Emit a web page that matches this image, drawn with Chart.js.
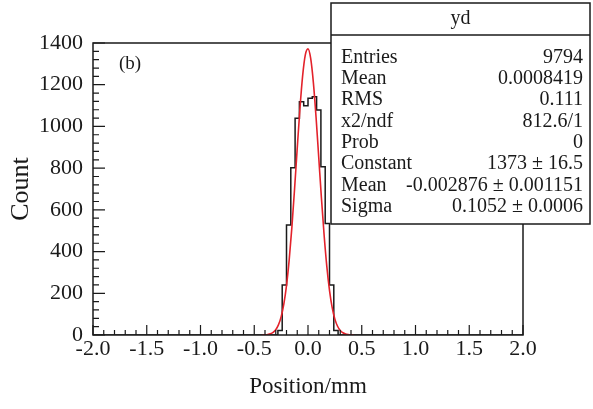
<!DOCTYPE html>
<html><head><meta charset="utf-8">
<script src="https://cdn.jsdelivr.net/npm/chart.js@4/dist/chart.umd.min.js"></script>
<style>html,body{margin:0;padding:0;background:#fff;} canvas{display:block;}</style>
</head><body>
<canvas id="c" width="593" height="409"></canvas>
<script>
// ---- data ----
const binEdges  = [-0.28,-0.24,-0.20,-0.16,-0.12,-0.08,-0.04,0.00,0.04,0.08,0.12,0.16,0.20,0.24,0.28];
const binCounts = [22,240,527,802,1039,1118,1099,1135,1142,1079,807,535,240,22];
const fitX = [-0.425,-0.4,-0.375,-0.35,-0.325,-0.3,-0.275,-0.25,-0.225,-0.2,-0.175,-0.15,-0.125,-0.1,-0.075,-0.05,-0.025,0,0.025,0.05,0.075,0.1,0.125,0.15,0.175,0.2,0.225,0.25,0.275,0.3,0.325,0.35,0.375,0.4,0.425];
const fitY = [0.4,1.1,2.6,5.9,12.6,25.4,48.4,87,148,237,360,516,700,897,1085,1242,1343,1372,1326,1210,1044,851,656,478,329,214,131,76,42,22,10.7,4.9,2.2,0.9,0.35];
const xTickValues = [-2,-1.5,-1,-0.5,0,0.5,1,1.5,2];
const xTickLabels = ['-2.0','-1.5','-1.0','-0.5','0.0','0.5','1.0','1.5','2.0'];
const yTickValues = [0,200,400,600,800,1000,1200,1400];
const yTickLabels = ['0','200','400','600','800','1000','1200','1400'];
const statsTitle = 'yd';
const statsNames  = ['Entries','Mean','RMS','x2/ndf','Prob','Constant','Mean','Sigma'];
const statsValues = ['9794','0.0008419','0.111','812.6/1','0','1373 \u00b1 16.5','-0.002876 \u00b1 0.001151','0.1052 \u00b1 0.0006'];
const panelLabel = '(b)';
const xTitle = 'Position/mm';
const yTitle = 'Count';

// ---- build library tables ----
const histPts = [{x:-2, y:0}];
binCounts.forEach((c, i) => histPts.push({x: binEdges[i], y: c}));
histPts.push({x: binEdges[binEdges.length - 1], y: 0});
histPts.push({x: 2, y: 0});
const fitPts = fitX.map((x, i) => ({x, y: fitY[i]}));

const FONT = 'Liberation Serif';
const INK = '#1a1a1a';

const decor = {
  id: 'decor',
  afterDatasetsDraw(chart) {
    const ctx = chart.ctx, a = chart.chartArea;
    const xs = chart.scales.x, ys = chart.scales.y;
    ctx.save();
    ctx.strokeStyle = INK;
    ctx.lineWidth = 1.5;
    ctx.strokeRect(a.left, a.top, a.right - a.left, a.bottom - a.top);
    ctx.lineWidth = 1.2;
    ctx.beginPath();
    for (let i = 0; i < xTickValues.length; i++) {
      const px = xs.getPixelForValue(xTickValues[i]);
      ctx.moveTo(px, a.bottom); ctx.lineTo(px, a.bottom - 10);
      if (i < xTickValues.length - 1) {
        const step = (xTickValues[i + 1] - xTickValues[i]) / 5;
        for (let k = 1; k < 5; k++) {
          const pm = xs.getPixelForValue(xTickValues[i] + k * step);
          ctx.moveTo(pm, a.bottom); ctx.lineTo(pm, a.bottom - 5);
        }
      }
    }
    for (let i = 0; i < yTickValues.length; i++) {
      const py = ys.getPixelForValue(yTickValues[i]);
      ctx.moveTo(a.left, py); ctx.lineTo(a.left + 12, py);
      if (i < yTickValues.length - 1) {
        const step = (yTickValues[i + 1] - yTickValues[i]) / 5;
        for (let k = 1; k < 5; k++) {
          const pm = ys.getPixelForValue(yTickValues[i] + k * step);
          ctx.moveTo(a.left, pm); ctx.lineTo(a.left + 6, pm);
        }
      }
    }
    ctx.stroke();
    ctx.restore();
  },
  afterDraw(chart) {
    const ctx = chart.ctx;
    ctx.save();
    ctx.fillStyle = INK;
    ctx.font = '19px "' + FONT + '"';
    ctx.textAlign = 'left'; ctx.textBaseline = 'middle';
    ctx.fillText(panelLabel, 119, 64);
    const bx = 331, by = 3, bw = 259, bh = 221;
    ctx.fillStyle = '#fff';
    ctx.fillRect(bx, by, bw, bh);
    ctx.strokeStyle = INK; ctx.lineWidth = 1.5;
    ctx.strokeRect(bx, by, bw, bh);
    ctx.beginPath(); ctx.moveTo(bx, 35); ctx.lineTo(bx + bw, 35); ctx.stroke();
    ctx.fillStyle = INK;
    ctx.font = '20px "' + FONT + '"';
    ctx.textAlign = 'center';
    ctx.fillText(statsTitle, bx + bw / 2, 19);
    for (let i = 0; i < statsNames.length; i++) {
      const y = 57.5 + i * 21.3;
      ctx.textAlign = 'left';
      ctx.fillText(statsNames[i], 341, y);
      ctx.textAlign = 'right';
      ctx.fillText(statsValues[i], 583, y);
    }
    ctx.restore();
  }
};

new Chart(document.getElementById('c'), {
  type: 'line',
  data: {
    datasets: [
      {data: fitPts, borderColor: '#e3222b', borderWidth: 1.6, pointRadius: 0, cubicInterpolationMode: 'monotone', fill: false},
      {data: histPts, borderColor: INK, borderWidth: 1.5, pointRadius: 0, stepped: 'before', fill: false}
    ]
  },
  options: {
    responsive: false, animation: false,
    layout: {padding: {top: 43, right: 70, left: 0, bottom: 0}},
    plugins: {legend: {display: false}, tooltip: {enabled: false}},
    scales: {
      x: {
        type: 'linear', min: -2, max: 2,
        afterBuildTicks: s => { s.ticks = xTickValues.map(v => ({value: v})); },
        afterFit: s => { s.height = 409 - 335; },
        ticks: {callback: (v, i) => xTickLabels[i], color: INK, font: {family: FONT, size: 22}, padding: 1, maxRotation: 0, autoSkip: false},
        grid: {drawOnChartArea: false, drawTicks: false},
        border: {display: false},
        title: {display: true, text: xTitle, color: INK, font: {family: FONT, size: 23}, padding: {top: 0, bottom: 8}}
      },
      y: {
        type: 'linear', min: 0, max: 1400,
        afterBuildTicks: s => { s.ticks = yTickValues.map(v => ({value: v})); },
        afterFit: s => { s.width = 93; },
        ticks: {callback: (v, i) => yTickLabels[i], color: INK, font: {family: FONT, size: 22}, padding: 10, autoSkip: false},
        grid: {drawOnChartArea: false, drawTicks: false},
        border: {display: false},
        title: {display: true, text: yTitle, color: INK, font: {family: FONT, size: 26}, padding: {top: 6, bottom: 0}}
      }
    }
  },
  plugins: [decor]
});
</script>
</body></html>
